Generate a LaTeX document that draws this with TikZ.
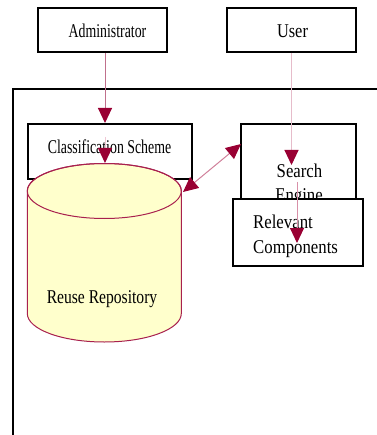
\documentclass[tikz,border=0pt]{standalone}
\usepackage{fontspec}
\usepackage{graphicx}
\setmainfont{Liberation Serif}
\usetikzlibrary{arrows.meta}
\definecolor{headred}{HTML}{990033}
\definecolor{admline}{HTML}{C0708C}
\definecolor{usrline}{HTML}{E6BCCA}
\definecolor{dblline}{HTML}{D0809A}
\definecolor{clsline}{HTML}{F0C8D4}
\definecolor{relline}{HTML}{D890A8}
\definecolor{cylfill}{HTML}{FFFFCC}
\definecolor{cylline}{HTML}{A8204E}
\tikzset{
  box/.style={draw=black, line width=2pt, fill=white, inner sep=0pt},
  txt/.style={font=\fontsize{19.5}{23}\selectfont, inner sep=0pt, anchor=base},
  arr/.style={line width=1pt, -{Triangle[length=15pt,width=14pt,color=headred]}},
  dblarr/.style={line width=1pt, {Triangle[length=15pt,width=14pt,color=headred]}-{Triangle[length=15pt,width=14pt,color=headred]}},
}
\begin{document}
\begin{tikzpicture}[x=1pt,y=-1pt]
\useasboundingbox[fill=white] (0,0) rectangle (376,435);
% outer frame
\draw[line width=2pt] (12.5,440) -- (12.5,89.5) -- (380,89.5);
% top boxes
\node[box, minimum width=129pt, minimum height=44pt] (adm) at (102.5,30) {};
\node[txt] (admt) at (107.5,38) {\scalebox{0.71}[1]{Administrator}};
\node[box, minimum width=129pt, minimum height=44pt] (usr) at (291.5,30) {};
\node[txt] (usrt) at (292.5,38) {\scalebox{0.84}[1]{User}};
% classification scheme
\node[box, minimum width=164pt, minimum height=55pt] (cls) at (110,151.5) {};
\node[txt] (clst) at (109.5,154) {\scalebox{0.71}[1]{Classification Scheme}};
% cylinder
\path[fill=cylfill, draw=cylline, line width=1pt]
  (27.3,191) -- (27.3,313.5)
  arc[start angle=180, end angle=360, x radius=77pt, y radius=28.5pt]
  -- (181.3,191)
  arc[start angle=0, end angle=180, x radius=77pt, y radius=27.5pt] -- cycle;
\draw[cylline, line width=1pt] (104.3,191) ellipse [x radius=77pt, y radius=27.5pt];
\node[txt] (repo) at (102,303) {\scalebox{0.80}[1]{Reuse Repository}};
% search engine
\node[box, minimum width=115pt, minimum height=116pt] (srch) at (298.5,182) {};
\node[txt] (srcht) at (299.5,178) {\scalebox{0.86}[1]{Search}};
\node[txt] (engt) at (299,202) {\scalebox{0.86}[1]{Engine}};
% relevant components
\node[box, minimum width=130pt, minimum height=67pt] (rel) at (298,232.5) {};
\node[txt, anchor=base west] (relt1) at (253,228) {\scalebox{0.86}[1]{Relevant}};
\node[txt, anchor=base west] (relt2) at (253,253) {\scalebox{0.86}[1]{Components}};
% coordinates for connector ends
\coordinate (a1) at (105,123);
\coordinate (c1) at (105,137);
\coordinate (c2) at (105,163);
\coordinate (s1) at (291.5,165);
\coordinate (r0) at (297,182);
\coordinate (r1) at (297,243);
\coordinate (d1) at (183,192);
\coordinate (d2) at (241,144);
% connectors
\draw[arr, draw=admline] (a1 |- adm.south) -- (a1);
\draw[arr, draw=clsline] (c1) -- (c2);
\draw[arr, draw=usrline] (usr.south) -- (s1);
\draw[arr, draw=relline] (r0) -- (r1);
\draw[dblarr, draw=dblline] (d1) -- (d2);
\end{tikzpicture}
\end{document}
